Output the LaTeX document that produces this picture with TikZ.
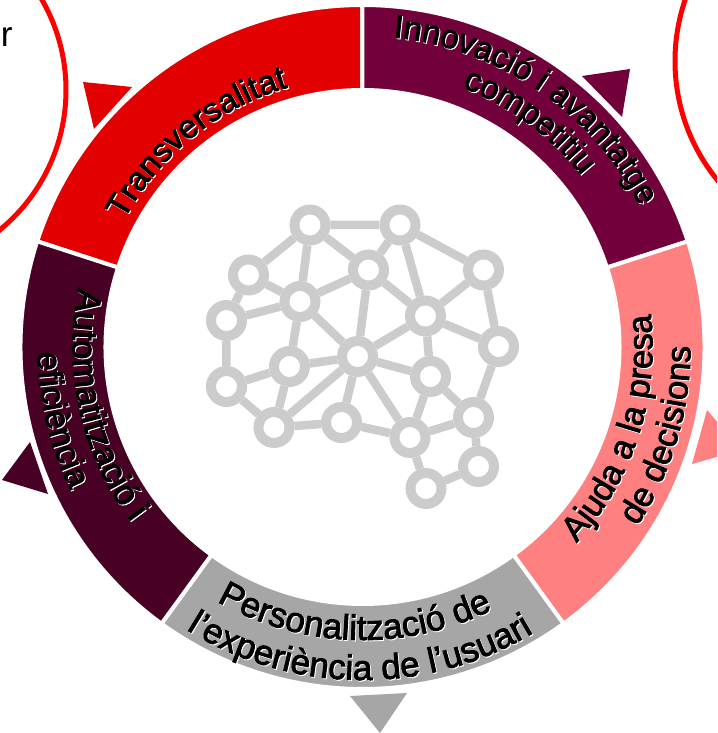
\documentclass[tikz,border=0pt]{standalone}
\usepackage{fontspec}
\setmainfont{Liberation Sans}
\newfontfamily\ringfont[FakeBold=2.5]{Liberation Sans}
\usetikzlibrary{decorations.text}

\definecolor{ringred}{HTML}{E30000}
\definecolor{ringwine}{HTML}{72003A}
\definecolor{ringpink}{HTML}{FF8080}
\definecolor{ringgray}{HTML}{A6A6A6}
\definecolor{ringdark}{HTML}{480024}
\definecolor{netgray}{HTML}{CCCCCC}

\tikzset{
	segment/.style = {draw = white, line width = 0.08 cm},
	neuron/.style = {circle, draw = netgray, fill = white, line width = 0.2 cm, minimum size = 0.62 cm, inner sep = 0 pt},
	link/.style = {draw = netgray, line width = 0.17 cm},
	bubble/.style = {draw = red, line width = 0.1 cm}
}

\newcommand{\ringlabel}[5]{
	\path [decorate, decoration = {text along path, text align = center, text = {|\ringfont\fontsize{#4}{20}\selectfont\color{white}|#5}}] ([shift = {(0.02, -0.02)}] #1 : #3) arc [start angle = #1, end angle = #2, radius = #3];
	\path [decorate, decoration = {text along path, text align = center, text = {|\ringfont\fontsize{#4}{20}\selectfont\color{black}|#5}}] (#1 : #3) arc [start angle = #1, end angle = #2, radius = #3];
}

\begin{document}
\begin{tikzpicture}

	\useasboundingbox (-7.25, -7.72) rectangle (7.09, 6.94);
	\clip (-7.25, -7.72) rectangle (7.09, 6.94);

	% Circles cut off at the corners

	\draw [bubble] (-9.55, 5.14) circle (3.62);
	\draw [bubble] (10.02, 5.72) circle (3.77);
	\node [anchor = base west, inner sep = 0 pt, font = \fontsize{20}{22}\selectfont] (cutword) at (-7.24, 6.0) {r};

	% Ring segments

	\fill [ringred, segment] (162 : 6.84) arc [start angle = 162, end angle = 90, radius = 6.84] -- (90 : 5.14) arc [start angle = 90, end angle = 162, radius = 5.14] -- cycle;
	\fill [ringwine, segment] (90 : 6.84) arc [start angle = 90, end angle = 18, radius = 6.84] -- (18 : 5.14) arc [start angle = 18, end angle = 90, radius = 5.14] -- cycle;
	\fill [ringpink, segment] (18 : 6.84) arc [start angle = 18, end angle = -54, radius = 6.84] -- (-54 : 5.14) arc [start angle = -54, end angle = 18, radius = 5.14] -- cycle;
	\fill [ringgray, segment] (-54 : 6.84) arc [start angle = -54, end angle = -126, radius = 6.84] -- (-126 : 5.14) arc [start angle = -126, end angle = -54, radius = 5.14] -- cycle;
	\fill [ringdark, segment] (-126 : 6.84) arc [start angle = -126, end angle = -198, radius = 6.84] -- (-198 : 5.14) arc [start angle = -198, end angle = -126, radius = 5.14] -- cycle;

	% Triangles outside the ring

	\fill [ringred] (-5.59, 5.30) -- (-4.61, 5.20) -- (-5.37, 4.36) -- cycle;
	\fill [ringwine] (4.39, 5.42) -- (5.35, 5.56) -- (5.19, 4.60) -- cycle;
	\fill [ringpink] (6.89, -1.26) -- (7.57, -2.06) -- (6.59, -2.34) -- cycle;
	\fill [ringgray] (-0.25, -6.98) -- (0.89, -6.92) -- (0.35, -7.72) -- cycle;
	\fill [ringdark] (-6.65, -1.90) -- (-7.21, -2.66) -- (-6.29, -2.94) -- cycle;

	% Labels on the ring

	\ringlabel{169}{89}{5.4}{18.8}{Transversalitat}
	\ringlabel{100.6}{10.6}{6.22}{18.8}{Innovació i avantatge}
	\ringlabel{93.5}{13.5}{5.56}{18.8}{competitiu}
	\ringlabel{-63}{27}{5.8}{19.5}{Ajuda a la presa}
	\ringlabel{-56.5}{23.5}{6.56}{19.5}{de decisions}
	\ringlabel{-136.7}{-46.7}{5.86}{20}{Personalització de}
	\ringlabel{-135.5}{-45.5}{6.66}{20}{l’experiència de l’usuari}
	\ringlabel{147.7}{237.7}{5.8}{20}{Automatització i}
	\ringlabel{153.5}{233.5}{6.5}{19.5}{eficiència}

	% Network in the middle

	\node [neuron] (na) at (-1.05, 2.44) {};
	\node [neuron] (nb) at (0.75, 2.44) {};
	\node [neuron] (nc) at (2.42, 1.54) {};
	\node [neuron] (nd) at (0.12, 1.54) {};
	\node [neuron] (ne) at (-2.28, 1.44) {};
	\node [neuron] (nf) at (-1.25, 0.91) {};
	\node [neuron] (ng) at (-2.72, 0.53) {};
	\node [neuron] (nh) at (1.26, 0.62) {};
	\node [neuron] (ni) at (2.72, 0.01) {};
	\node [neuron] (nj) at (-0.10, -0.19) {};
	\node [neuron] (nk) at (-1.46, -0.39) {};
	\node [neuron] (nl) at (1.36, -0.59) {};
	\node [neuron] (nm) at (-2.72, -0.79) {};
	\node [neuron] (nn) at (2.22, -1.41) {};
	\node [neuron] (no) at (-1.77, -1.61) {};
	\node [neuron] (np) at (-0.42, -1.51) {};
	\node [neuron] (nq) at (0.95, -1.81) {};
	\node [neuron] (nr) at (2.32, -2.39) {};
	\node [neuron] (ns) at (1.27, -2.83) {};

	\draw [link] (na) -- (nb) (na) -- (ne) (na) -- (nf) (na) -- (nd);
	\draw [link] (nb) -- (nd) (nb) -- (nc) (nb) -- (nh);
	\draw [link] (nd) -- (nf) (nd) -- (nh) (nd) -- (nj);
	\draw [link] (nc) -- (nh) (nc) -- (ni);
	\draw [link] (ne) -- (nf) (ne) -- (ng);
	\draw [link] (nf) -- (ng) (nf) -- (nj) (nf) -- (nk);
	\draw [link] (nh) -- (ni) (nh) -- (nj) (nh) -- (nl);
	\draw [link] (nj) -- (nk) (nj) -- (nl) (nj) -- (no) (nj) -- (np) (nj) -- (nq);
	\draw [link] (nk) -- (nm) (nk) -- (no);
	\draw [link] (ng) -- (nm) (nm) -- (no) (no) -- (np) (np) -- (nq);
	\draw [link] (nq) -- (nl) (nq) -- (nn) (nl) -- (nn) (ni) -- (nn);
	\draw [link] (nn) -- (nr) (nr) -- (ns) (ns) -- (nq);

\end{tikzpicture}
\end{document}
